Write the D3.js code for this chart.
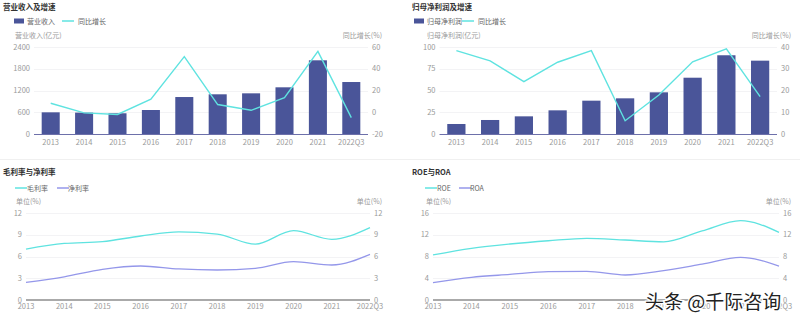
<!DOCTYPE html>
<html>
<head>
<meta charset="utf-8">
<script src="https://cdn.jsdelivr.net/npm/d3@7"></script>
<style>
  body { margin: 0; background: #fff; }
  svg { display: block; font-family: "Noto Sans CJK SC", "Noto Sans", sans-serif; }
</style>
</head>
<body>
<svg id="chart" width="800" height="322"></svg>
<script>
(function(){
    var years = ['2013','2014','2015','2016','2017','2018','2019','2020','2021','2022Q3'];

    // 营业收入 (亿元) / 同比增长 (%)
    var revenue       = [598, 590, 572, 662, 1020, 1095, 1122, 1288, 2033, 1434];
    var revenueGrowth = [8.3, -0.6, -2.0, 12.0, 51.2, 7.1, 1.8, 13.5, 56.0, -4.9];
    var revTicks      = [0, 600, 1200, 1800, 2400];
    var revGrowthTicks = [-20, 0, 20, 40, 60];

    // 归母净利润 (亿元) / 同比增长 (%)
    var profit        = [11.5, 16.1, 20.3, 27.2, 38.3, 41.0, 47.9, 64.7, 90.5, 84.3];
    var profitGrowth  = [38.3, 33.6, 24.1, 33.0, 38.3, 6.1, 17.9, 33.2, 39.2, 17.2];
    var profitTicks   = [0, 25, 50, 75, 100];
    var profitGrowthTicks = [0, 10, 20, 30, 40];

    // 毛利率 / 净利率 (%)
    var grossMargin = [7.03, 7.8, 8.05, 8.83, 9.4, 9.1, 7.7, 9.56, 8.37, 9.98];
    var netMargin   = [2.44, 3.2, 4.23, 4.69, 4.28, 4.14, 4.37, 5.28, 4.83, 6.3];
    var marginTicks = [0, 3, 6, 9, 12];

    // ROE / ROA (%)
    var roe = [8.28, 9.5, 10.3, 10.9, 11.35, 11.03, 10.7, 12.7, 14.6, 12.45];
    var roa = [3.2, 4.17, 4.7, 5.2, 5.27, 4.6, 5.4, 6.6, 7.85, 6.25];
    var roeTicks = [0, 4, 8, 12, 16];

    var barCol = '#4a5599',
        tealCol = '#5fe3e0',
        purpleCol = '#9497ea',
        tickCol = '#9a9a9a',
        gridCol = '#f3f3f5';

    var svg = d3.select('#chart');

    // faint separator between the two rows
    svg.append('line')
        .attr('x1', 0).attr('x2', 800)
        .attr('y1', 159.5).attr('y2', 159.5)
        .style('stroke', '#f0f0f0');

    function title(g, x, y, txt){
        g.append('text').attr('x', x).attr('y', y)
            .style('font-size', '7.5px').style('font-weight', 'bold').style('fill', '#333')
            .text(txt);
    }

    function legend(g, items, y){
        items.forEach(function(it){
            if (it.type == 'bar') {
                g.append('rect').attr('x', it.x).attr('y', y - 2.5)
                    .attr('width', 10).attr('height', 5).style('fill', it.col);
            } else {
                g.append('line').attr('x1', it.x).attr('x2', it.x + 12)
                    .attr('y1', y).attr('y2', y)
                    .style('stroke', it.col).style('stroke-width', 1.5);
            }
            g.append('text').attr('x', it.tx).attr('y', y + 2.6)
                .style('font-size', '7px').style('fill', '#666')
                .text(it.label);
        });
    }

    function axisText(g, x, y, txt, anchor){
        g.append('text').attr('x', x).attr('y', y)
            .attr('text-anchor', anchor || 'start')
            .style('font-size', '7px').style('fill', tickCol)
            .text(txt);
    }

    function yAxes(g, yL, yR, ticksL, ticksR, left, right, fmtL){
        // grid lines from left ticks
        g.selectAll('.grid').data(ticksL.slice(1)).enter().append('line')
            .attr('x1', left).attr('x2', right)
            .attr('y1', function(d){ return Math.round(yL(d)) + 0.5 })
            .attr('y2', function(d){ return Math.round(yL(d)) + 0.5 })
            .style('stroke', gridCol);
        g.selectAll('.tl').data(ticksL).enter().append('text')
            .attr('x', left - 4).attr('y', function(d){ return yL(d) + 2.6 })
            .attr('text-anchor', 'end')
            .style('font-size', '7.5px').style('fill', tickCol)
            .text(function(d){ return d });
        g.selectAll('.tr').data(ticksR).enter().append('text')
            .attr('x', right + 4).attr('y', function(d){ return yR(d) + 2.6 })
            .style('font-size', '7.5px').style('fill', tickCol)
            .text(function(d){ return d });
    }

    // ---- bar + growth line panel ----
    function barPanel(o){
        var g = svg.append('g').attr('transform', 'translate(' + o.ox + ',0)');
        title(g, o.titleX, 10, o.title);
        legend(g, [
            {type:'bar', x:14, tx:27, col:barCol, label:o.barName},
            {type:'line', x:62, tx:78, col:tealCol, label:'同比增长'}
        ], 21);
        axisText(g, o.nameX, 38, o.axisName);
        axisText(g, o.right + 14, 38, '同比增长(%)', 'end');

        var x = d3.scaleBand().domain(years).range([o.left, o.right]).paddingInner(0.46).paddingOuter(0.23);
        var yL = d3.scaleLinear().domain(d3.extent(o.ticksL)).range([134, 47]);
        var yR = d3.scaleLinear().domain(d3.extent(o.ticksR)).range([134, 47]);

        yAxes(g, yL, yR, o.ticksL, o.ticksR, o.left, o.right);

        g.selectAll('.bar').data(o.bars).enter().append('rect')
            .attr('x', function(d, i){ return x(years[i]) })
            .attr('y', function(d){ return yL(d) })
            .attr('width', x.bandwidth())
            .attr('height', function(d){ return yL(0) - yL(d) })
            .style('fill', barCol);

        g.append('line')
            .attr('x1', o.left).attr('x2', o.right)
            .attr('y1', 134.5).attr('y2', 134.5)
            .style('stroke', '#6d70aa');

        g.selectAll('.xl').data(years).enter().append('text')
            .attr('x', function(d){ return x(d) + x.bandwidth() / 2 })
            .attr('y', 145)
            .attr('text-anchor', 'middle')
            .style('font-size', '7.5px').style('fill', tickCol)
            .text(function(d){ return d });

        g.append('path')
            .datum(o.growth)
            .attr('d', d3.line()
                .x(function(d, i){ return x(years[i]) + x.bandwidth() / 2 })
                .y(function(d){ return yR(d) }))
            .style('fill', 'none')
            .style('stroke', tealCol)
            .style('stroke-width', 1.4);
    }

    // ---- two line panel ----
    function linePanel(o){
        var g = svg.append('g').attr('transform', 'translate(' + o.ox + ',0)');
        title(g, o.titleX, 175, o.title);
        legend(g, [
            {type:'line', x:o.legX[0], tx:o.legX[0] + 12, col:tealCol, label:o.names[0]},
            {type:'line', x:o.legX[1], tx:o.legX[1] + 11, col:purpleCol, label:o.names[1]}
        ], 188);
        axisText(g, o.nameX, 204, '单位(%)');
        axisText(g, o.right + 12, 204, '单位(%)', 'end');

        var x = d3.scalePoint().domain(years).range([o.left, o.right]);
        var y = d3.scaleLinear().domain(d3.extent(o.ticks)).range([300, 213]);

        yAxes(g, y, y, o.ticks, o.ticks, o.left, o.right);

        g.append('line')
            .attr('x1', o.left).attr('x2', o.right)
            .attr('y1', 300).attr('y2', 300)
            .style('stroke', '#aaa').style('stroke-width', 2);

        g.selectAll('.xl').data(years).enter().append('text')
            .attr('x', function(d){ return x(d) })
            .attr('y', 309)
            .attr('text-anchor', 'middle')
            .style('font-size', '7.5px').style('fill', tickCol)
            .text(function(d){ return d });

        var line = d3.line()
            .curve(d3.curveMonotoneX)
            .x(function(d, i){ return x(years[i]) })
            .y(function(d){ return y(d) });

        [[o.s1, tealCol], [o.s2, purpleCol]].forEach(function(s){
            g.append('path').datum(s[0])
                .attr('d', line)
                .style('fill', 'none')
                .style('stroke', s[1])
                .style('stroke-width', 1.3);
        });
    }

    barPanel({ox:0, left:34, right:368, titleX:3, title:'营业收入及增速',
        barName:'营业收入', axisName:'营业收入(亿元)', nameX:15,
        bars:revenue, growth:revenueGrowth, ticksL:revTicks, ticksR:revGrowthTicks});

    barPanel({ox:400, left:39.5, right:377, titleX:12, title:'归母净利润及增速',
        barName:'归母净利润', axisName:'归母净利润(亿元)', nameX:27,
        bars:profit, growth:profitGrowth, ticksL:profitTicks, ticksR:profitGrowthTicks});

    linePanel({ox:0, left:26, right:370, titleX:3, title:'毛利率与净利率',
        names:['毛利率', '净利率'], legX:[15, 57], nameX:16,
        s1:grossMargin, s2:netMargin, ticks:marginTicks});

    linePanel({ox:400, left:33, right:379, titleX:12, title:'ROE与ROA',
        names:['ROE', 'ROA'], legX:[25, 59], nameX:26,
        s1:roe, s2:roa, ticks:roeTicks});

    // source watermark
    svg.append('text')
        .attr('x', 645).attr('y', 309)
        .style('font-size', '19px')
        .style('fill', '#222')
        .style('stroke', '#fff').style('stroke-width', 2.5)
        .style('paint-order', 'stroke')
        .text('头条 @千际咨询');
})();
</script>
</body>
</html>
